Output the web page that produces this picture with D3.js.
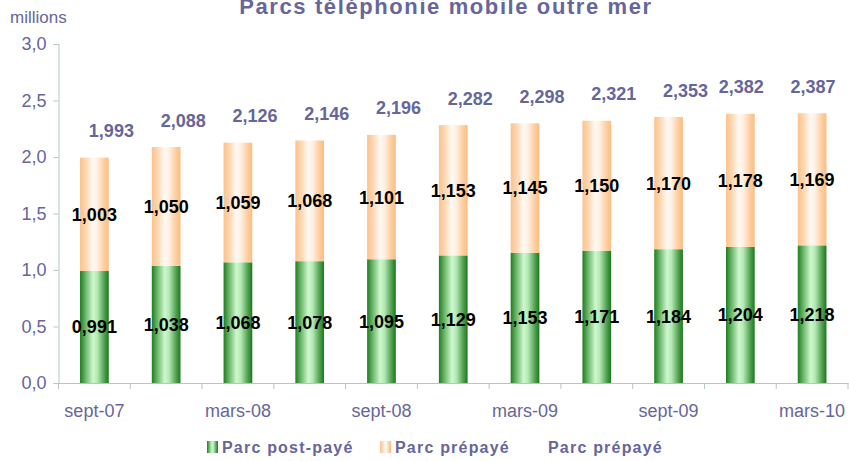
<!DOCTYPE html>
<html>
<head>
<meta charset="utf-8">
<script src="https://cdn.jsdelivr.net/npm/d3@7"></script>
<style>
  body { margin: 0; background: #fff; }
  text { font-family: "Liberation Sans", Arial, sans-serif; }
</style>
</head>
<body>
<div id="chart"></div>
<script>
// data (millions)
var categories = ["sept-07", "déc-07", "mars-08", "juin-08", "sept-08", "déc-08",
                  "mars-09", "juin-09", "sept-09", "déc-09", "mars-10"];
var postPaye = [0.991, 1.038, 1.068, 1.078, 1.095, 1.129, 1.153, 1.171, 1.184, 1.204, 1.218];
var prePaye  = [1.003, 1.050, 1.059, 1.068, 1.101, 1.153, 1.145, 1.150, 1.170, 1.178, 1.169];
var totals   = [1.993, 2.088, 2.126, 2.146, 2.196, 2.282, 2.298, 2.321, 2.353, 2.382, 2.387];
var yTicks   = [0, 0.5, 1, 1.5, 2, 2.5, 3];
var legendNames = ["Parc post-payé", "Parc prépayé", "Parc prépayé"];

var W = 849, H = 461;
var textColor = "#66669a";
var axisColor = "#b4c6c9";
var font = "'Liberation Sans', Arial, sans-serif";

var svg = d3.select("#chart")
  .append("svg")
  .attr("width", W)
  .attr("height", H);

// gradients for the bars
var defs = svg.append("defs");
function hGradient(id, stops) {
  var g = defs.append("linearGradient")
    .attr("id", id)
    .attr("x1", "0%").attr("x2", "100%")
    .attr("y1", "0%").attr("y2", "0%");
  stops.forEach(function(s) {
    g.append("stop").attr("offset", s[0]).attr("stop-color", s[1]);
  });
}
hGradient("gGreen", [[0, "#1f7d1f"], [0.18, "#66b266"], [0.45, "#cdf8cd"], [0.6, "#b5e9b5"], [0.85, "#4f9f4f"], [1, "#1c781c"]]);
hGradient("gOrange", [[0, "#fcc28c"], [0.2, "#fdd6b0"], [0.45, "#fffaf4"], [0.6, "#fff0e2"], [0.85, "#fdcc9c"], [1, "#fbbd82"]]);

// scales
var x = d3.scaleBand()
  .domain(categories)
  .range([58.5, 848])
  .paddingInner(0.6)
  .paddingOuter(0.3);

var y = d3.scaleLinear()
  .domain([0, 3])
  .range([383, 44]);

var stack = categories.map(function(c, i) {
  return { cat: c, post: postPaye[i], pre: prePaye[i], total: totals[i] };
});

// title (top edge cut like the original)
svg.append("text")
  .attr("x", 446)
  .attr("y", 14)
  .attr("text-anchor", "middle")
  .attr("font-size", "22px")
  .attr("font-weight", "bold")
  .attr("letter-spacing", "1.6px")
  .attr("fill", textColor)
  .text("Parcs  téléphonie mobile outre mer");

svg.append("text")
  .attr("x", 10)
  .attr("y", 23)
  .attr("font-size", "17px")
  .attr("fill", textColor)
  .text("millions");

// Y axis
var yAxis = svg.append("g")
  .attr("transform", "translate(58.5,0)")
  .call(d3.axisLeft(y)
    .tickValues(yTicks)
    .tickSize(5)
    .tickPadding(7)
    .tickFormat(function(d) { return d3.format(".1f")(d).replace(".", ","); }));
yAxis.select(".domain").attr("stroke", axisColor);
yAxis.selectAll(".tick line").attr("stroke", axisColor);
yAxis.selectAll(".tick text")
  .attr("font-size", "18px")
  .attr("font-family", font)
  .attr("fill", textColor);

// bars
var bars = svg.append("g");
bars.selectAll("rect.post")
  .data(stack)
  .enter()
  .append("rect")
    .attr("class", "post")
    .attr("x", function(d) { return x(d.cat); })
    .attr("width", x.bandwidth())
    .attr("y", function(d) { return y(d.post); })
    .attr("height", function(d) { return y(0) - y(d.post); })
    .attr("fill", "url(#gGreen)");

bars.selectAll("rect.pre")
  .data(stack)
  .enter()
  .append("rect")
    .attr("class", "pre")
    .attr("x", function(d) { return x(d.cat); })
    .attr("width", x.bandwidth())
    .attr("y", function(d) { return y(d.post + d.pre); })
    .attr("height", function(d) { return y(d.post) - y(d.post + d.pre); })
    .attr("fill", "url(#gOrange)");

// X axis
var xAxis = svg.append("g")
  .attr("transform", "translate(0,383)")
  .call(d3.axisBottom(x)
    .tickValues(categories.filter(function(c, i) { return i % 2 === 0; }))
    .tickSize(0)
    .tickPadding(21));
xAxis.select(".domain").attr("stroke", axisColor);
xAxis.selectAll(".tick text")
  .attr("font-size", "18px")
  .attr("font-family", font)
  .attr("fill", textColor);

// tick marks between categories
var step = x.step();
var bounds = categories.map(function(c) { return x(c) + x.bandwidth() / 2 - step / 2; });
bounds.push(bounds[bounds.length - 1] + step);
xAxis.selectAll("line.sep")
  .data(bounds)
  .enter()
  .append("line")
    .attr("class", "sep")
    .attr("x1", function(d) { return d; })
    .attr("x2", function(d) { return d; })
    .attr("y1", 0)
    .attr("y2", 6)
    .attr("stroke", axisColor);

// segment labels
function fmt(v) { return d3.format(".3f")(v).replace(".", ","); }

svg.append("g").selectAll("text")
  .data(stack)
  .enter()
  .append("text")
    .attr("x", function(d) { return x(d.cat) + x.bandwidth() / 2; })
    .attr("y", function(d) { return y(d.post / 2); })
    .attr("dy", "0.36em")
    .attr("text-anchor", "middle")
    .attr("font-size", "18px")
    .attr("font-weight", "bold")
    .attr("fill", "#000")
    .text(function(d) { return fmt(d.post); });

svg.append("g").selectAll("text")
  .data(stack)
  .enter()
  .append("text")
    .attr("x", function(d) { return x(d.cat) + x.bandwidth() / 2; })
    .attr("y", function(d) { return y(d.post + d.pre / 2); })
    .attr("dy", "0.36em")
    .attr("text-anchor", "middle")
    .attr("font-size", "18px")
    .attr("font-weight", "bold")
    .attr("fill", "#000")
    .text(function(d) { return fmt(d.pre); });

// total labels, shifted right except the last two (kept inside the frame)
svg.append("g").selectAll("text")
  .data(stack)
  .enter()
  .append("text")
    .attr("x", function(d, i) {
      var dx = i < stack.length - 2 ? 17 : 1;
      return x(d.cat) + x.bandwidth() / 2 + dx;
    })
    .attr("y", function(d) { return y(d.total) - 27; })
    .attr("dy", "0.36em")
    .attr("text-anchor", "middle")
    .attr("font-size", "18px")
    .attr("font-weight", "bold")
    .attr("fill", textColor)
    .text(function(d) { return fmt(d.total); });

// legend
var legendX = [207, 380, 548];
var legendFill = ["url(#gGreen)", "url(#gOrange)", null];
var legend = svg.append("g");
legendNames.forEach(function(name, i) {
  if (legendFill[i]) {
    legend.append("rect")
      .attr("x", legendX[i])
      .attr("y", 441)
      .attr("width", 11)
      .attr("height", 12)
      .attr("fill", legendFill[i]);
  }
  legend.append("text")
    .attr("x", legendFill[i] ? legendX[i] + 15 : legendX[i])
    .attr("y", 453)
    .attr("font-size", "16px")
    .attr("font-weight", "bold")
    .attr("letter-spacing", "1.2px")
    .attr("fill", textColor)
    .text(name);
});
</script>
</body>
</html>
